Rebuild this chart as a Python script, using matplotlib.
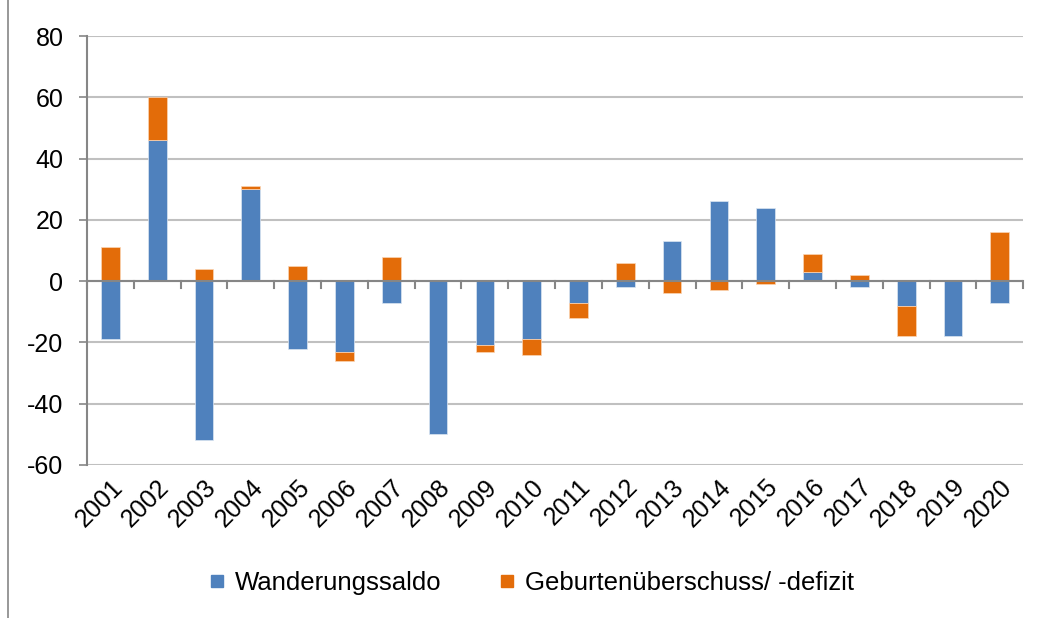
import numpy as np
import matplotlib.pyplot as plt
from matplotlib.lines import Line2D

plt.rcParams["font.family"] = ["Liberation Sans", "DejaVu Sans"]

years = [str(y) for y in range(2001, 2021)]
wanderungssaldo = [-19, 46, -52, 30, -22, -23, -7, -50, -21, -19,
                   -7, -2, 13, 26, 24, 3, -2, -8, -18, -7]
geburten = [11, 14, 4, 1, 5, -3, 8, 0, -2, -5,
            -5, 6, -4, -3, -1, 6, 2, -10, 0, 16]
y_ticks = [-60, -40, -20, 0, 20, 40, 60, 80]

BLUE = "#4F81BD"
ORANGE = "#E36C09"
GRID = "#C0C0C0"
AXIS = "#868686"

w = np.array(wanderungssaldo, dtype=float)
g = np.array(geburten, dtype=float)
# Excel-style stacking: positives on positives, negatives on negatives
g_bottom = np.where(np.sign(g) == np.sign(w), w, 0.0)

fig = plt.figure(figsize=(10.43, 6.18), dpi=100)
ax = fig.add_axes([0.0834, 0.2476, 0.8976, 0.6941])

x = np.arange(len(years))
ax.bar(x, w, width=0.4, color=BLUE, edgecolor="#DCE6F2", linewidth=0.5, zorder=3)
ax.bar(x, g, bottom=g_bottom, width=0.4, color=ORANGE, edgecolor="#FBD5B5",
       linewidth=0.5, zorder=3)

ax.set_ylim(-60, 80)
ax.set_xlim(-0.5, len(years) - 0.5)
ax.set_yticks(y_ticks)
ax.set_yticklabels([str(v) for v in y_ticks], fontsize=18)
ax.yaxis.grid(True, color=GRID, linewidth=1.5, zorder=0)
ax.tick_params(axis="y", length=6, width=1.2, color=AXIS, pad=11)

for side in ("top", "right", "bottom"):
    ax.spines[side].set_visible(False)
ax.spines["left"].set_color(AXIS)
ax.spines["left"].set_linewidth(1.5)

# zero axis line with category boundary ticks
ax.axhline(0, color=AXIS, linewidth=1.5, zorder=4)
for b in np.arange(len(years) + 1) - 0.5:
    ax.plot([b, b], [0, -2.2], color=AXIS, linewidth=1.5, zorder=4, clip_on=False)

ax.set_xticks(x)
ax.set_xticklabels(years, fontsize=18, rotation=45, ha="right", rotation_mode="anchor")
ax.tick_params(axis="x", length=0, pad=7)

handles = [
    Line2D([], [], marker="s", linestyle="none", markersize=9, color=BLUE),
    Line2D([], [], marker="s", linestyle="none", markersize=9, color=ORANGE),
]
fig.legend(handles, ["Wanderungssaldo", "Geburtenüberschuss/ -defizit"],
           loc="center", bbox_to_anchor=(0.509, 0.057), ncol=2, frameon=False,
           fontsize=18.5, handlelength=0.7, handletextpad=0.35, columnspacing=2.2)

# chart frame border on the left
fig.add_artist(Line2D([0.0077, 0.0077], [0.0, 1.0], color=AXIS, linewidth=1.2))

fig.savefig("out.png", dpi=100)
